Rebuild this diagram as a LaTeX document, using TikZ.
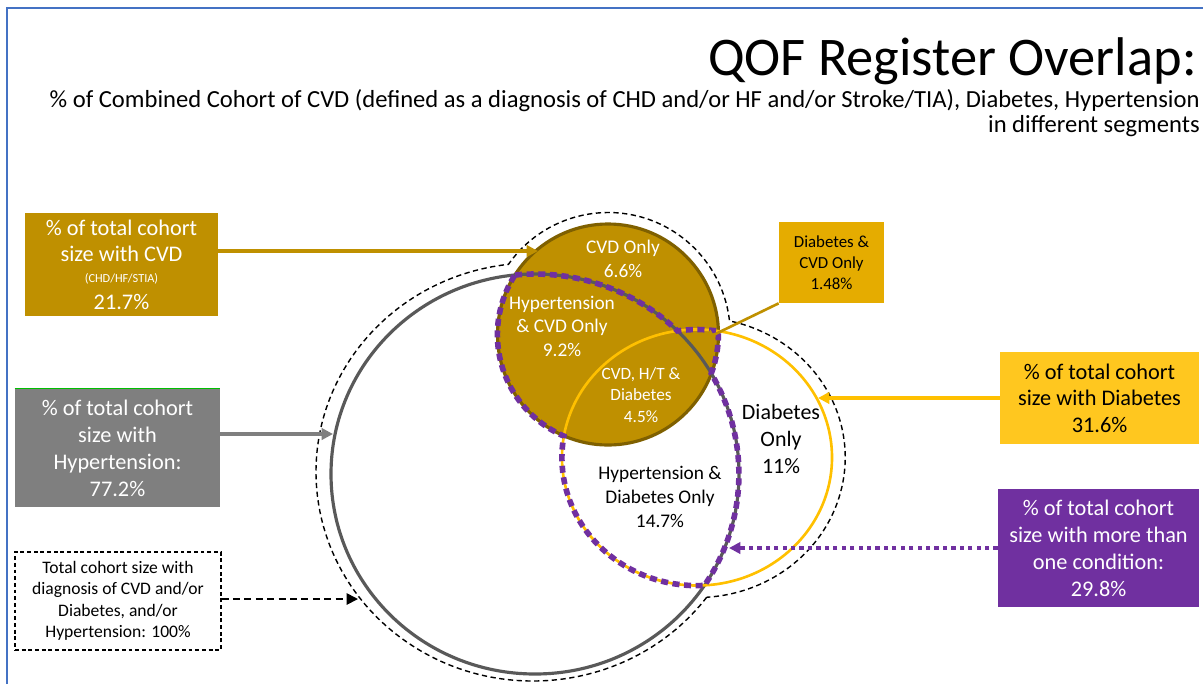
\documentclass[tikz,border=0pt]{standalone}
\usepackage{fontspec}
\setmainfont{Carlito}
\usepackage{tikz}
\usetikzlibrary{arrows.meta, calc}
\definecolor{cvdgold}{HTML}{BF9000}
\definecolor{cvdedge}{HTML}{7F6000}
\definecolor{htgray}{HTML}{7F7F7F}
\definecolor{htline}{HTML}{595959}
\definecolor{diabline}{HTML}{FFC000}
\definecolor{diabfill}{HTML}{FFC71F}
\definecolor{dcgold}{HTML}{E5AC00}
\definecolor{multipurple}{HTML}{7030A0}
\definecolor{frameblue}{HTML}{4472C4}
\def\fs#1#2{\fontsize{#1}{#2}\selectfont}

\begin{document}
\begin{tikzpicture}[x=0.02cm, y=-0.02cm,
    box/.style={inner sep=0pt, align=center},
    lbl/.style={inner sep=0pt, align=center},
    tip/.style={-{Triangle[length=6.5pt, width=6.5pt]}},
    outline/.style={black, line width=0.8pt, dash pattern=on 3pt off 2pt},
    multi/.style={multipurple, line width=3.2pt, dash pattern=on 4pt off 2.6pt}]
  \useasboundingbox (0,0) rectangle (1203,684);
  % frame
  \draw[frameblue, line width=1pt] (7,684) -- (7,8) -- (1203,8);
  % titles
  \node[anchor=base east, inner sep=0pt, font=\fs{31}{36}] (title) at (1197,75) {QOF Register Overlap:};
  \node[anchor=base east, inner sep=0pt, font=\fs{14}{17}] (subtitle) at (1200,107)
    {\% of Combined Cohort of CVD (defined as a diagnosis of CHD and/or HF and/or Stroke/TIA), Diabetes, Hypertension};
  \node[anchor=base east, inner sep=0pt, font=\fs{14}{17}] (subtitleb) at (1200,132) {in different segments};

  % centres of the three registers
  \coordinate (hcen) at (535,474);
  \coordinate (ccen) at (608,334.5);
  \coordinate (dcen) at (697,457.5);
  \coordinate (hout) at (533,472);

  % dashed outline round everything
  \draw[outline] (hout) ++(36.8:217 and 209)
    arc[start angle=36.8, end angle=263.5, x radius=217, y radius=209]
    arc[start angle=215.1, end angle=353.6, radius=122]
    arc[start angle=-77.4, end angle=86.2, x radius=148, y radius=140] -- cycle;

  % circles
  \draw[cvdedge, fill=cvdgold, line width=1.8pt] (ccen) circle[radius=110.5];
  \draw[htline, line width=1.8pt] (hcen) ellipse[x radius=204, y radius=200];
  \draw[diabline, line width=1.5pt] (dcen) ellipse[x radius=135, y radius=128];

  % more than one condition
  \draw[multi] (hcen) ++(-95.6:204 and 200)
    arc[start angle=-95.6, end angle=-45.7, x radius=204, y radius=200]
    arc[start angle=-98.3, end angle=-80.9, x radius=135, y radius=128]
    arc[start angle=-1.75, end angle=20.7, radius=110.5]
    arc[start angle=-30.2, end angle=33.8, x radius=204, y radius=200]
    arc[start angle=86.8, end angle=189.7, x radius=135, y radius=128]
    arc[start angle=113.5, end angle=212.6, radius=110.5] -- cycle;

  % segment labels
  \node[lbl, text=white, font=\fs{11}{13.7}] (cvdonly) at (623,259) {CVD Only\\6.6\%};
  \node[lbl, text=white, font=\fs{11}{13.4}] (hypcvd) at (562,326) {Hypertension\\\& CVD Only\\9.2\%};
  \node[lbl, text=white, font=\fs{9.8}{12}] (allthree) at (641,395) {CVD, H/T \&\\Diabetes\\4.5\%};
  \node[lbl, font=\fs{12.5}{15.4}] (diabonly) at (781,439) {Diabetes\\Only\\11\%};
  \node[lbl, font=\fs{11}{13.7}] (hypdiab) at (660,497) {Hypertension \&\\Diabetes Only\\14.7\%};

  % boxes
  \node[box, fill=cvdgold, text=white, minimum width=3.86cm, minimum height=2.06cm, font=\fs{12.7}{15}] (cvdbox) at (121.5,264.5)
    {\% of total cohort\\size with CVD\\[-3pt]{\fs{7}{8}(CHD/HF/STIA)}\\21.7\%};
  \node[box, fill=htgray, text=white, minimum width=4.1cm, minimum height=2.36cm, font=\fs{12.7}{15.4}] (hypbox) at (117.5,448)
    {\% of total cohort\\size with\\Hypertension:\\77.2\%};
  \draw[green!75!black, line width=0.6pt] (hypbox.north west) -- (hypbox.north east);
  \node[box, draw=black, dash pattern=on 2.2pt off 1.6pt, line width=0.6pt, minimum width=4.12cm, minimum height=1.96cm, font=\fs{10}{12.2}] (totbox) at (118,601)
    {Total cohort size with\\diagnosis of CVD and/or\\Diabetes, and/or\\Hypertension: 100\%};
  \node[box, fill=dcgold, minimum width=2.1cm, minimum height=1.62cm, font=\fs{9.6}{12}] (dcbox) at (831.5,262.5)
    {Diabetes \&\\CVD Only\\1.48\%};
  \node[box, fill=diabfill, minimum width=3.98cm, minimum height=1.84cm, font=\fs{12.7}{15}] (diabbox) at (1099.5,398)
    {\% of total cohort\\size with Diabetes\\31.6\%};
  \node[box, fill=multipurple, text=white, minimum width=4.02cm, minimum height=2.36cm, font=\fs{12.7}{15.4}] (multibox) at (1098.5,548)
    {\% of total cohort\\size with more than\\one condition:\\29.8\%};

  % arrow tips on the circles
  \coordinate (cvdtip) at (538,251);
  \coordinate (hyptip) at (333,434);
  \coordinate (tottip) at (358,599);
  \coordinate (dctip) at (703,340);
  \coordinate (diabtip) at (818,398);
  \coordinate (multitip) at (729,548);

  % connectors
  \draw[tip, cvdgold, line width=1.8pt] (cvdbox.east |- cvdtip) -- (cvdtip);
  \draw[tip, htgray, line width=1.8pt] (hypbox.east |- hyptip) -- (hyptip);
  \draw[tip, black, line width=1pt, dash pattern=on 4pt off 2.5pt] (totbox.east |- tottip) -- (tottip);
  \draw[tip, cvdgold, line width=1.5pt] (dcbox.south west) -- (dctip);
  \draw[tip, diabline, line width=1.8pt] (diabbox.west) -- (diabtip);
  \draw[tip, multipurple, line width=2.4pt, dash pattern=on 2.4pt off 2.4pt] (multibox.west) -- (multitip);
\end{tikzpicture}
\end{document}
